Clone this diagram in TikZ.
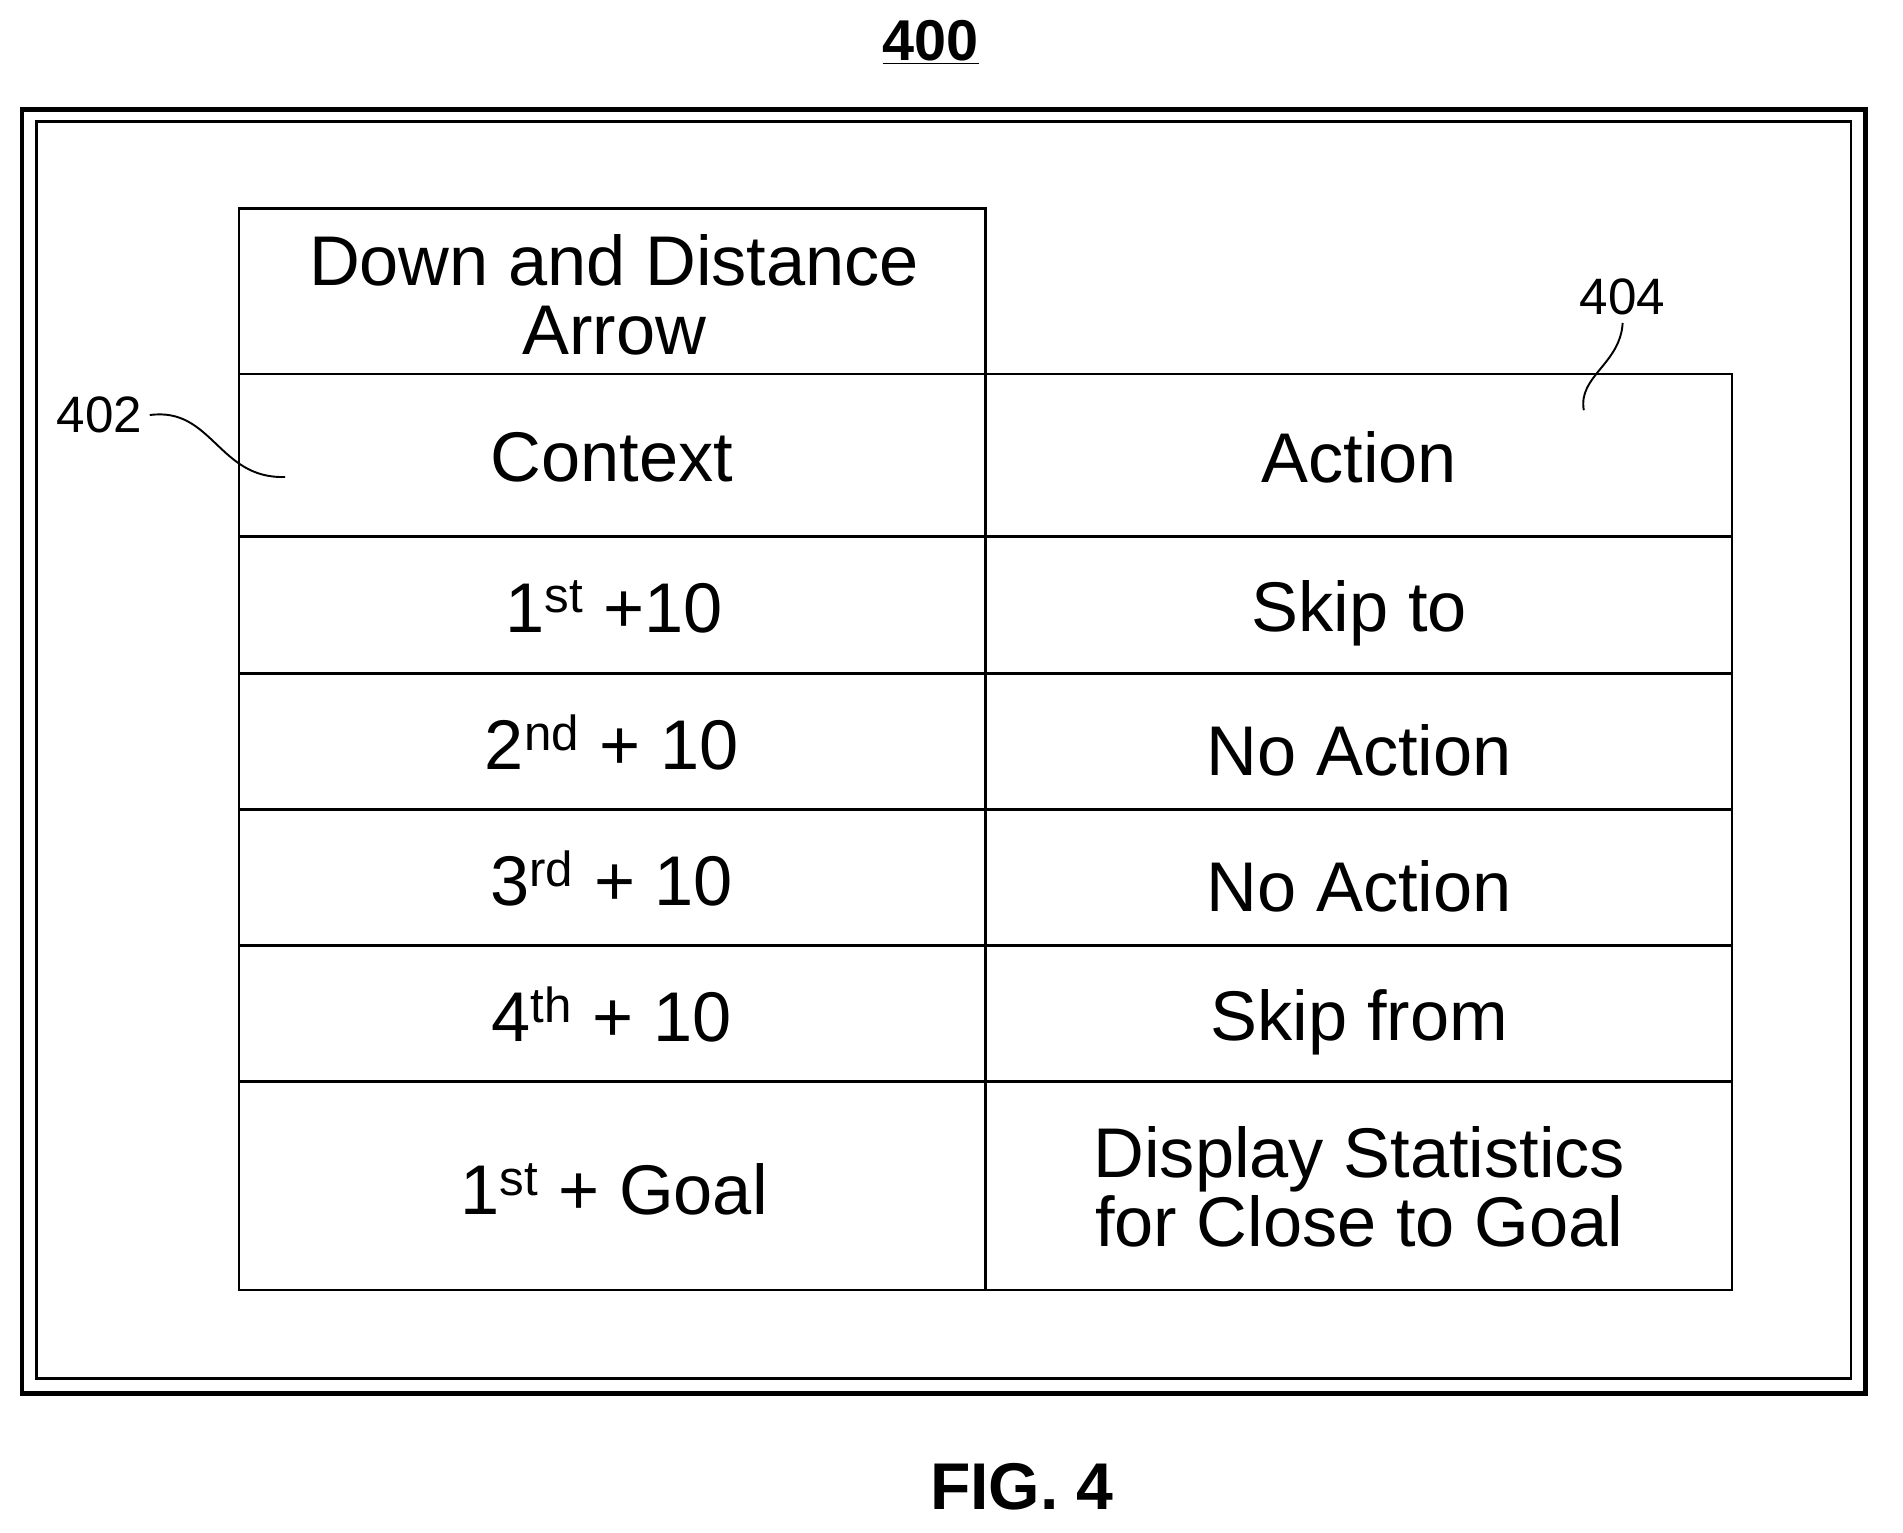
\documentclass[tikz,border=0pt]{standalone}
\usepackage{fontspec}
\setmainfont{Liberation Sans}
\begin{document}
\begin{tikzpicture}[x=0.02cm,y=-0.02cm,
  cell/.style={draw,line width=1.2pt},
  txt/.style={font=\fontsize{33}{32}\selectfont,align=center},
  lbl/.style={font=\fontsize{24}{26}\selectfont}]
\useasboundingbox (0,0) rectangle (1568,1263);
\node[font=\bfseries\fontsize{27}{29}\selectfont] (t400) at (767,35) {\underline{400}};
\draw[line width=2.2pt] (18,90) rectangle (1537,1148);
\draw[line width=1.2pt] (30,100) rectangle (1525,1136);
% table
\draw[cell] (197,172) rectangle (812,308);
\foreach \a/\b in {308/442,442/555,555/667,667/779,779/891,891/1063}{
  \draw[cell] (197,\a) rectangle (812,\b);
  \draw[cell] (812,\a) rectangle (1427,\b);}
\node[txt] (h) at (506,243) {Down and Distance\\Arrow};
\node[txt] (c0) at (504,377) {Context};
\node[txt] (a0) at (1120,377) {Action};
\node[txt] (c1) at (506,500) {1\textsuperscript{st} +10};
\node[txt] (a1) at (1120,505) {Skip to};
\node[txt] (c2) at (504,612) {2\textsuperscript{nd} + 10};
\node[txt] (a2) at (1120,618) {No Action};
\node[txt] (c3) at (504,724) {3\textsuperscript{rd} + 10};
\node[txt] (a3) at (1120,730) {No Action};
\node[txt] (c4) at (504,836) {4\textsuperscript{th} + 10};
\node[txt] (a4) at (1120,842) {Skip from};
\node[txt] (c5) at (506,980) {1\textsuperscript{st} + Goal};
\node[txt] (a5) at (1120,978) {Display Statistics\\for Close to Goal};
\node[lbl] (l402) at (82,342) {402};
\node[lbl] (l404) at (1337,245) {404};
\coordinate (e402) at (235,393);
\coordinate (e404) at (1305,338);
\draw[line width=0.9pt] (l402.east) .. controls (175,335) and (180,395) .. (e402);
\draw[line width=0.9pt] (l404.south) .. controls (1335,300) and (1300,310) .. (e404);
\node[font=\bfseries\fontsize{31}{33}\selectfont] (fig) at (842,1225) {FIG. 4};
\end{tikzpicture}
\end{document}
